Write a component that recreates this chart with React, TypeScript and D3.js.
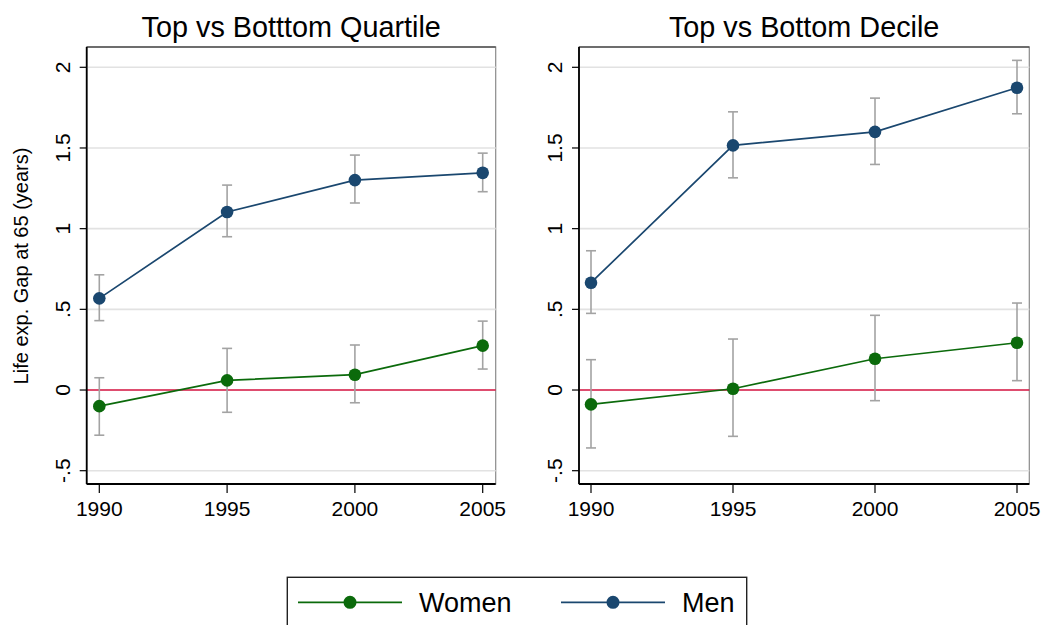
import React from "react";
import * as d3 from "d3";

// Survey years shared by both panels
const years = [1990, 1995, 2000, 2005];

// Y-axis ticks and their printed labels
const yTicks = [-0.5, 0, 0.5, 1, 1.5, 2];
const yTickLabels = ["-.5", "0", ".5", "1", "1.5", "2"];

// Top vs bottom quartile: point estimates and 95% CI bounds
const quartileWomen = [-0.1, 0.06, 0.095, 0.275];
const quartileWomenLo = [-0.28, -0.138, -0.079, 0.13];
const quartileWomenHi = [0.076, 0.258, 0.279, 0.427];
const quartileMen = [0.568, 1.103, 1.301, 1.346];
const quartileMenLo = [0.43, 0.95, 1.159, 1.229];
const quartileMenHi = [0.714, 1.27, 1.456, 1.468];

// Top vs bottom decile: point estimates and 95% CI bounds
const decileWomen = [-0.089, 0.008, 0.194, 0.293];
const decileWomenLo = [-0.359, -0.287, -0.066, 0.058];
const decileWomenHi = [0.188, 0.316, 0.463, 0.539];
const decileMen = [0.665, 1.516, 1.6, 1.873];
const decileMenLo = [0.475, 1.315, 1.398, 1.712];
const decileMenHi = [0.863, 1.724, 1.809, 2.043];

const panelTitles = ["Top vs Botttom Quartile", "Top vs Bottom Decile"];
const seriesNames = ["Women", "Men"];

const WOMEN = "#0b6a0b";
const MEN = "#1a476f";
const CI = "#a3a3a3";
const ZERO = "#d3123f";
const GRID = "#e2e2e2";
const FONT = "'Liberation Sans', Arial, Helvetica, sans-serif";

type Series = { values: number[]; lo: number[]; hi: number[]; color: string };

type PanelProps = {
  title: string;
  frameLeft: number;
  frameRight: number;
  xStart: number;
  xEnd: number;
  series: Series[];
};

const frameTop = 47;
const frameBottom = 484;
const y = d3.scaleLinear().domain([-0.5, 2]).range([470.7, 67.3]);

function Panel({ title, frameLeft, frameRight, xStart, xEnd, series }: PanelProps) {
  const x = d3.scaleLinear().domain([1990, 2005]).range([xStart, xEnd]);
  const line = d3
    .line<number>()
    .x((_, i) => x(years[i]))
    .y((v) => y(v));
  const cx = (frameLeft + frameRight) / 2;
  const capHalf = 5;

  return (
    <g>
      <text x={cx} y={37} textAnchor="middle" fontSize={28.8} fontFamily={FONT} fill="#000">
        {title}
      </text>
      {/* plot frame */}
      <rect
        x={frameLeft}
        y={frameTop}
        width={frameRight - frameLeft}
        height={frameBottom - frameTop}
        fill="#fff"
        stroke="#8a8a8a"
        strokeWidth={1.2}
      />
      <line x1={frameLeft} x2={frameRight} y1={frameTop} y2={frameTop} stroke="#222" strokeWidth={1.2} />
      {/* horizontal grid */}
      {yTicks
        .filter((t) => t !== 0)
        .map((t) => (
          <line key={t} x1={frameLeft} x2={frameRight} y1={y(t)} y2={y(t)} stroke={GRID} strokeWidth={1.6} />
        ))}
      {/* reference line at zero */}
      <line x1={frameLeft} x2={frameRight} y1={y(0)} y2={y(0)} stroke={ZERO} strokeWidth={1.7} />
      {/* confidence intervals */}
      {series.map((s, si) =>
        years.map((yr, i) => (
          <g key={`${si}-${yr}`} stroke={CI} strokeWidth={1.6}>
            <line x1={x(yr)} x2={x(yr)} y1={y(s.lo[i])} y2={y(s.hi[i])} />
            <line x1={x(yr) - capHalf} x2={x(yr) + capHalf} y1={y(s.lo[i])} y2={y(s.lo[i])} />
            <line x1={x(yr) - capHalf} x2={x(yr) + capHalf} y1={y(s.hi[i])} y2={y(s.hi[i])} />
          </g>
        ))
      )}
      {/* series lines and markers */}
      {series.map((s, si) => (
        <g key={si}>
          <path d={line(s.values) || ""} fill="none" stroke={s.color} strokeWidth={1.7} />
          {s.values.map((v, i) => (
            <circle key={i} cx={x(years[i])} cy={y(v)} r={6.3} fill={s.color} />
          ))}
        </g>
      ))}
      {/* y axis */}
      <line x1={frameLeft} x2={frameLeft} y1={frameTop} y2={frameBottom} stroke="#000" strokeWidth={1.8} />
      {yTicks.map((t, i) => (
        <g key={t}>
          <line x1={frameLeft - 7} x2={frameLeft} y1={y(t)} y2={y(t)} stroke="#000" strokeWidth={1.2} />
          <text
            transform={`translate(${frameLeft - 17},${y(t)}) rotate(-90)`}
            textAnchor="middle"
            fontSize={21}
            fontFamily={FONT}
            fill="#000"
          >
            {yTickLabels[i]}
          </text>
        </g>
      ))}
      {/* x axis */}
      <line x1={frameLeft} x2={frameRight} y1={frameBottom} y2={frameBottom} stroke="#000" strokeWidth={1.8} />
      {years.map((yr) => (
        <g key={yr}>
          <line x1={x(yr)} x2={x(yr)} y1={frameBottom} y2={frameBottom + 9} stroke="#000" strokeWidth={1.2} />
          <text x={x(yr)} y={516} textAnchor="middle" fontSize={21} fontFamily={FONT} fill="#000">
            {yr}
          </text>
        </g>
      ))}
    </g>
  );
}

export default function App() {
  const quartileSeries: Series[] = [
    { values: quartileWomen, lo: quartileWomenLo, hi: quartileWomenHi, color: WOMEN },
    { values: quartileMen, lo: quartileMenLo, hi: quartileMenHi, color: MEN },
  ];
  const decileSeries: Series[] = [
    { values: decileWomen, lo: decileWomenLo, hi: decileWomenHi, color: WOMEN },
    { values: decileMen, lo: decileMenLo, hi: decileMenHi, color: MEN },
  ];
  const legendColors = [WOMEN, MEN];
  const legendKeyX = [298, 561];
  const legendTextX = [419, 682];

  return (
    <svg
      width={1043}
      height={625}
      style={{ position: "absolute", left: 0, top: 0, background: "#fff" }}
    >
      <rect width={1043} height={625} fill="#fff" />
      <text
        transform="translate(28,266) rotate(-90)"
        textAnchor="middle"
        fontSize={20}
        fontFamily={FONT}
        fill="#000"
      >
        Life exp. Gap at 65 (years)
      </text>
      <Panel
        title={panelTitles[0]}
        frameLeft={86.7}
        frameRight={495.7}
        xStart={99.3}
        xEnd={482.7}
        series={quartileSeries}
      />
      <Panel
        title={panelTitles[1]}
        frameLeft={579}
        frameRight={1029.3}
        xStart={591}
        xEnd={1017}
        series={decileSeries}
      />
      {/* legend */}
      <rect x={287.3} y={577.3} width={459.4} height={70} fill="#fff" stroke="#222" strokeWidth={1.4} />
      {seriesNames.map((name, i) => (
        <g key={name}>
          <line
            x1={legendKeyX[i]}
            x2={legendKeyX[i] + 104}
            y1={602.3}
            y2={602.3}
            stroke={legendColors[i]}
            strokeWidth={1.7}
          />
          <circle cx={legendKeyX[i] + 52} cy={602.3} r={6.5} fill={legendColors[i]} />
          <text x={legendTextX[i]} y={612} fontSize={27} fontFamily={FONT} fill="#000">
            {name}
          </text>
        </g>
      ))}
    </svg>
  );
}
